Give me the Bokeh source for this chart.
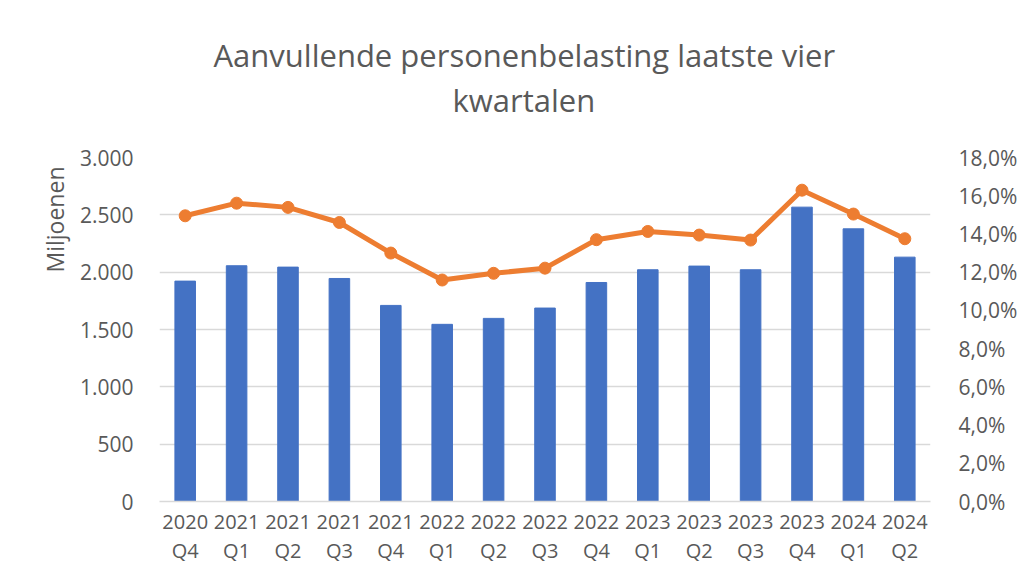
from bokeh.plotting import figure
from bokeh.models import Range1d, LinearAxis, FixedTicker, Title
from bokeh.embed import file_html
from bokeh.resources import INLINE

categories = ["2020\nQ4", "2021\nQ1", "2021\nQ2", "2021\nQ3", "2021\nQ4",
              "2022\nQ1", "2022\nQ2", "2022\nQ3", "2022\nQ4", "2023\nQ1",
              "2023\nQ2", "2023\nQ3", "2023\nQ4", "2024\nQ1", "2024\nQ2"]
miljoenen = [1922, 2056, 2044, 1945, 1710, 1545, 1597, 1687, 1910, 2021,
             2053, 2021, 2567, 2378, 2131]
percentage = [14.95, 15.61, 15.39, 14.60, 13.00, 11.59, 11.94, 12.21, 13.70,
              14.13, 13.94, 13.68, 16.29, 15.04, 13.75]
left_ticks = [0, 500, 1000, 1500, 2000, 2500, 3000]
left_labels = ["0", "500", "1.000", "1.500", "2.000", "2.500", "3.000"]
right_ticks = [0, 2, 4, 6, 8, 10, 12, 14, 16, 18]
right_labels = ["0,0%", "2,0%", "4,0%", "6,0%", "8,0%", "10,0%", "12,0%",
                "14,0%", "16,0%", "18,0%"]
title_lines = ["Aanvullende personenbelasting laatste vier", "kwartalen"]

TXT = "#595959"
GRID = "#D9D9D9"
FONT = "Open Sans"

xs = list(range(len(categories)))

p = figure(width=1020, height=567, output_backend="svg", toolbar_location=None,
           x_range=Range1d(-0.5, len(categories) - 0.5), y_range=Range1d(0, 3000),
           min_border_left=159, min_border_right=80, min_border_top=157,
           min_border_bottom=66)
p.title = None
p.extra_y_ranges = {"pct": Range1d(0, 18)}

# titles: first added sits nearest the frame
p.add_layout(Title(text=title_lines[1], align="left", offset=293, standoff=74,
                   text_font=FONT, text_font_size="31px", text_font_style="normal",
                   text_color=TXT), "above")
p.add_layout(Title(text=title_lines[0], align="left", offset=54, standoff=-72,
                   text_font=FONT, text_font_size="31px", text_font_style="normal",
                   text_color=TXT), "above")
p.add_layout(Title(text="Miljoenen", align="left", offset=229, standoff=12,
                   text_font=FONT, text_font_size="23px", text_font_style="normal",
                   text_color=TXT), "left")

p.vbar(x=xs, top=miljoenen, width=0.4, color="#4472C4")
p.line(x=xs, y=percentage, y_range_name="pct", color="#ED7D31", line_width=5)
p.scatter(x=xs, y=percentage, y_range_name="pct", size=12, color="#ED7D31")

p.outline_line_color = None
p.xgrid.grid_line_color = None
p.ygrid.grid_line_color = GRID
p.ygrid.grid_line_width = 1.5
p.ygrid.ticker = FixedTicker(ticks=left_ticks)

# x axis
xa = p.xaxis[0]
xa.ticker = FixedTicker(ticks=xs)
xa.major_label_overrides = {i: c for i, c in zip(xs, categories)}
xa.axis_line_color = GRID
xa.axis_line_width = 1.5
xa.major_tick_line_color = None
xa.minor_tick_line_color = None
xa.major_label_text_font = FONT
xa.major_label_text_font_size = "20px"
xa.major_label_text_line_height = 1.1
xa.major_label_text_color = TXT
xa.major_label_standoff = 0

# left axis
ya = p.yaxis[0]
ya.ticker = FixedTicker(ticks=left_ticks)
ya.major_label_overrides = {t: l for t, l in zip(left_ticks, left_labels)}
ya.axis_line_color = None
ya.major_tick_line_color = None
ya.minor_tick_line_color = None
ya.major_label_text_font = FONT
ya.major_label_text_font_size = "21px"
ya.major_label_text_color = TXT
ya.major_label_standoff = 20

# right axis
ra = LinearAxis(y_range_name="pct", ticker=FixedTicker(ticks=right_ticks))
ra.major_label_overrides = {t: l for t, l in zip(right_ticks, right_labels)}
ra.axis_line_color = None
ra.major_tick_line_color = None
ra.minor_tick_line_color = None
ra.major_label_text_font = FONT
ra.major_label_text_font_size = "21px"
ra.major_label_text_color = TXT
ra.major_label_standoff = 22
p.add_layout(ra, "right")

open("out.html", "w").write(file_html(p, INLINE))
